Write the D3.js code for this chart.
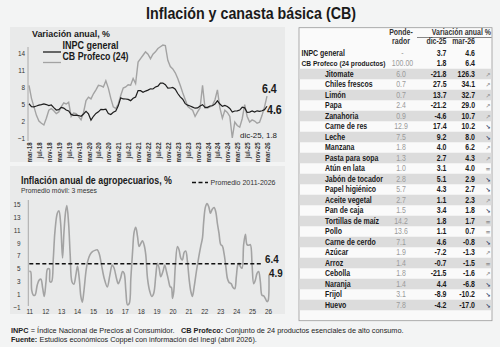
<!DOCTYPE html>
<html><head><meta charset="utf-8">
<script src="https://cdn.jsdelivr.net/npm/d3@7"></script>
<style>
html,body{margin:0;padding:0;background:#f3f4f4;}
svg{display:block;font-family:"Liberation Sans","Roboto",sans-serif;}
</style></head><body>
<script>
// ---------- DATA ----------
const topTickLabels = ["mar-18","jul-18","nov-18","mar-19","jul-19","nov-19","mar-20","jul-20","nov-20","mar-21","jul-21","nov-21","mar-22","jul-22","nov-22","mar-23","jul-23","nov-23","mar-24","jul-24","nov-24","mar-25","jul-25","nov-25","mar-26"];
// monthly, mar-18 .. mar-26
const inpcGeneral = [5.04,4.55,4.51,4.65,4.81,4.90,5.02,4.90,4.72,4.83,
 4.37,3.94,4.00,4.41,4.28,3.95,3.78,3.16,3.00,3.02,2.97,2.83,
 3.24,3.70,3.25,2.15,2.84,3.33,3.62,4.05,4.01,4.09,3.33,3.15,
 3.54,3.76,4.67,6.08,5.89,5.88,5.81,5.59,6.00,6.24,7.37,7.36,
 7.07,7.28,7.45,7.68,7.65,7.99,8.15,8.70,8.70,8.41,7.80,7.82,
 7.91,7.62,6.85,6.25,5.84,5.06,4.79,4.64,4.45,4.26,4.32,4.66,
 4.88,4.40,4.42,4.65,4.69,4.98,5.57,4.99,4.58,4.76,4.55,4.21,
 3.59,3.77,3.80,3.93,4.42,4.32,3.51,3.57,3.76,3.57,3.80,3.69,
 3.80,4.00,4.60];
const cbProfeco = [8.3,6.0,4.5,3.0,2.0,1.6,1.3,2.5,3.9,4.2,
 3.8,3.3,3.6,4.5,5.2,5.0,5.3,2.8,3.4,3.3,2.8,2.2,
 3.5,5.6,6.2,5.9,6.8,7.5,8.3,8.2,8.0,9.1,7.8,6.0,
 4.5,4.2,5.0,6.5,7.8,8.0,8.4,8.3,9.5,8.6,12.4,13.0,
 13.6,14.2,13.8,13.0,13.8,14.2,14.8,15.1,15.4,15.3,12.7,11.6,
 11.2,10.5,9.5,8.3,7.0,5.8,4.6,4.2,3.9,2.8,3.6,4.3,
 8.3,4.3,4.3,4.5,4.8,5.7,7.5,4.3,2.5,3.9,3.5,2.8,
 -1.0,1.8,1.2,0.9,2.4,4.9,2.8,1.8,2.2,2.0,1.6,1.8,
 3.0,4.5,6.4];
const topYTicks = [14,11,8,5,2,-1];

// agro 3-month moving average (decimal year, value)
const agroTime = [2011.00,2011.08,2011.15,2011.25,2011.36,2011.50,2011.63,2011.73,2011.84,2011.94,
 2012.05,2012.15,2012.26,2012.30,2012.40,2012.51,2012.61,2012.76,2012.86,2012.97,
 2013.09,2013.18,2013.28,2013.36,2013.47,2013.57,2013.68,2013.80,2013.93,
 2014.03,2014.14,2014.24,2014.33,2014.43,2014.56,2014.66,2014.81,2014.97,
 2015.12,2015.27,2015.39,2015.54,2015.71,2015.90,
 2016.06,2016.21,2016.33,2016.48,2016.59,2016.73,2016.86,2016.96,
 2017.07,2017.17,2017.28,2017.38,2017.49,2017.59,2017.69,2017.80,2017.90,
 2018.01,2018.11,2018.22,2018.32,2018.43,2018.57,2018.70,2018.82,2018.95,
 2019.05,2019.16,2019.26,2019.41,2019.51,2019.62,2019.74,2019.85,2019.93,
 2020.00,2020.08,2020.18,2020.31,2020.41,2020.52,2020.62,2020.73,2020.83,2020.94,
 2021.04,2021.15,2021.25,2021.36,2021.50,2021.65,2021.77,2021.88,2021.96,
 2022.07,2022.17,2022.28,2022.38,2022.49,2022.61,2022.72,2022.82,2022.92,
 2023.03,2023.13,2023.24,2023.34,2023.45,2023.55,2023.68,2023.80,2023.91,
 2024.01,2024.10,2024.18,2024.26,2024.37,2024.47,2024.58,2024.68,2024.79,2024.89,
 2025.00,2025.10,2025.21,2025.31,2025.41,2025.52,2025.62,2025.73,2025.83,2025.94,
 2026.00,2026.06];
const agroValues = [4.5,4.5,1.6,0.8,0.8,2.4,3.2,3.3,1.9,0.6,
 2.9,4.9,4.9,2.9,2.9,6.6,10.7,13.6,14.0,12.0,
 6.6,10.7,13.8,14.8,12.0,7.1,2.9,2.5,4.0,
 5.3,3.4,0.6,-0.3,1.4,4.5,6.0,7.1,7.6,
 7.8,7.9,7.3,5.5,3.4,2.1,
 3.9,5.5,5.0,3.4,2.6,3.4,4.5,4.2,
 1.4,-0.7,-0.5,3.4,7.6,10.7,11.4,10.0,8.4,
 8.9,9.3,8.6,7.1,3.4,1.4,0.6,1.1,3.9,
 5.8,5.0,3.7,4.6,5.5,4.5,3.2,2.1,2.0,
 0.3,1.4,5.5,8.4,7.9,6.6,6.3,7.5,7.7,6.0,
 3.4,1.4,0.6,2.1,4.5,6.8,8.4,9.7,12.3,
 14.6,15.1,14.6,13.6,14.2,14.5,13.8,12.0,10.5,
 8.7,8.5,7.3,5.5,3.4,2.8,2.6,2.0,1.8,
 3.7,5.5,5.8,5.3,5.0,8.7,10.3,8.7,8.6,8.7,
 5.5,2.6,3.2,4.2,4.5,2.9,0.8,0.7,0.3,-0.2,
 -0.1,4.0];
const agroAverage = 5.7;
const agroYTicks = [15,13,11,9,7,5,3,1,-1];
const agroYearLabels = ["11","12","13","14","15","16","17","18","19","20","21","22","23","24","25","26"];

// table
const products = ["Jitomate","Chiles frescos","Limón","Papa","Zanahoria","Carne de res","Leche","Manzana","Pasta para sopa","Atún en lata","Jabón de tocador","Papel higiénico","Aceite vegetal","Pan de caja","Tortillas de maíz","Pollo","Carne de cerdo","Azúcar","Arroz","Cebolla","Naranja","Frijol","Huevo"];
const weights = ["6.0","0.7","0.7","2.4","0.9","12.9","7.5","1.8","1.3","1.0","2.8","5.7","2.7","1.5","14.2","13.6","7.1","1.9","1.4","1.8","1.4","3.1","7.8"];
const dic25 = ["-21.8","27.5","13.7","-21.2","-4.6","17.4","9.2","4.0","2.7","3.1","5.1","4.3","1.1","3.4","1.8","1.1","4.6","-7.2","-0.7","-21.5","4.4","-8.9","-4.2"];
const mar26 = ["126.3","34.1","32.7","29.0","10.7","10.2","8.0","6.2","4.3","4.0","2.9","2.7","2.3","1.8","1.7","0.7","-0.8","-1.3","-1.5","-1.6","-6.8","-10.2","-17.0"];
const trend = ["up","up","up","up","up","down","down","up","up","eq","down","down","up","down","eq","eq","down","up","eq","up","down","down","down"];
const summaryRows = [["INPC general","-","3.7","4.6"],["CB Profeco (24 productos)","100.00","1.8","6.4"]];
const tableHeaders = {pond1:"Ponde-",pond2:"rador",var:"Variación anual %",c1:"dic-25",c2:"mar-26"};
const footer1 = [["INPC",true],[" = Índice Nacional de Precios al Consumidor.   ",false],["CB Profeco:",true],[" Conjunto de 24 productos esenciales de alto consumo.",false]];
const footer2 = [["Fuente:",true],[" Estudios económicos Coppel con información del Inegi (abril 2026).",false]];

// ---------- DRAW ----------
const W=500,H=347;
const svg=d3.select("body").append("svg").attr("width",W).attr("height",H);
svg.append("rect").attr("width",W).attr("height",H).attr("fill","#f3f4f4");

svg.append("text").attr("x",251).attr("y",19).attr("text-anchor","middle").attr("data-w",210)
 .attr("font-size",16.5).attr("font-weight","bold").attr("fill","#1a1a1a").text("Inflación y canasta básica (CB)");

// panels
svg.append("rect").attr("x",10).attr("y",27).attr("width",275).attr("height",135).attr("fill","#e9eaea");
svg.append("rect").attr("x",10).attr("y",166).attr("width",275).attr("height",148).attr("fill","#e9eaea");

// ---- top chart ----
const xT=d3.scaleLinear().domain([0,cbProfeco.length-1]).range([29,267]);
const yT=d3.scaleLinear().domain([-1,14]).range([138,53]);
const gT=svg.append("g");
gT.append("line").attr("x1",28).attr("x2",28).attr("y1",47).attr("y2",141).attr("stroke","#999").attr("stroke-width",0.8);
const yAxT=d3.axisLeft(yT).tickValues(topYTicks).tickSize(0).tickPadding(0);
gT.append("g").attr("transform","translate(25,0)").call(yAxT)
 .call(g=>g.select(".domain").remove())
 .call(g=>g.selectAll("text").attr("font-size",7.5).attr("fill","#333").attr("font-family","inherit"));
const xAxT=d3.axisBottom(xT).tickValues(d3.range(0,97,4)).tickFormat((d,i)=>topTickLabels[i]).tickSize(0);
gT.append("g").attr("transform","translate(0,141)").call(xAxT)
 .call(g=>g.select(".domain").remove())
 .call(g=>g.selectAll("text").attr("font-size",7.2).attr("font-weight","bold").attr("fill","#333").attr("font-family","inherit")
   .attr("text-anchor","end").attr("transform","rotate(-90)").attr("dx","-0.2em").attr("dy","0").attr("x",0).attr("y",0)
   .attr("dominant-baseline","central"));
const lineT=d3.line().x((d,i)=>xT(i)).y(d=>yT(d));
gT.append("path").datum(cbProfeco).attr("d",lineT).attr("fill","none").attr("stroke","#a3a3a3").attr("stroke-width",1.4);
gT.append("path").datum(inpcGeneral).attr("d",lineT).attr("fill","none").attr("stroke","#1e1e1e").attr("stroke-width",1.2);
gT.append("text").attr("x",32).attr("y",37.3).attr("data-w",78).attr("font-size",9).attr("font-weight","bold").attr("fill","#1a1a1a").text("Variación anual, %");
gT.append("line").attr("x1",43).attr("x2",61).attr("y1",52).attr("y2",52).attr("stroke","#1e1e1e").attr("stroke-width",1.3);
gT.append("line").attr("x1",43).attr("x2",61).attr("y1",62.5).attr("y2",62.5).attr("stroke","#a3a3a3").attr("stroke-width",1.3);
gT.append("text").attr("x",62.5).attr("y",49).attr("data-w",56).attr("font-size",10).attr("font-weight","bold").attr("fill","#1a1a1a").text("INPC general");
gT.append("text").attr("x",62.5).attr("y",60).attr("data-w",66).attr("font-size",10).attr("font-weight","bold").attr("fill","#1a1a1a").text("CB Profeco (24)");
gT.append("text").attr("x",262).attr("y",93).attr("font-size",12.5).attr("font-weight","bold").attr("fill","#1a1a1a").text(cbProfeco[cbProfeco.length-1].toFixed(1));
gT.append("text").attr("x",267).attr("y",113.5).attr("font-size",12.5).attr("font-weight","bold").attr("fill","#1a1a1a").text(inpcGeneral[inpcGeneral.length-1].toFixed(1));
gT.append("text").attr("x",240).attr("y",138).attr("data-w",37).attr("font-size",8).attr("fill","#1a1a1a").text("dic-25, "+cbProfeco[93].toFixed(1));

// ---- bottom chart ----
const xB=d3.scaleLinear().domain([2011,2026]).range([29.3,268]);
const yB=d3.scaleLinear().domain([-1,15]).range([306.7,204.3]);
const gB=svg.append("g");
gB.append("line").attr("x1",28.3).attr("x2",28.3).attr("y1",200).attr("y2",306).attr("stroke","#999").attr("stroke-width",0.8);
gB.append("g").attr("transform","translate(20.5,0)").call(d3.axisLeft(yB).tickValues(agroYTicks).tickSize(0).tickPadding(0))
 .call(g=>g.select(".domain").remove())
 .call(g=>g.selectAll("text").attr("font-size",7.5).attr("fill","#333").attr("font-family","inherit"));
gB.append("g").attr("transform","translate(0,306)").call(d3.axisBottom(xB).tickValues(d3.range(2011,2027)).tickFormat((d,i)=>agroYearLabels[i]).tickSize(0).tickPadding(3))
 .call(g=>g.select(".domain").remove())
 .call(g=>g.selectAll("text").attr("font-size",7.5).attr("fill","#333").attr("font-family","inherit"));
const lineB=d3.line().x((d,i)=>xB(agroTime[i])).y(d=>yB(d)).curve(d3.curveCatmullRom.alpha(0.5));
gB.append("path").datum(agroValues).attr("d",lineB).attr("fill","none").attr("stroke","#a3a3a3").attr("stroke-width",1.6);
gB.append("line").attr("x1",xB(2011)).attr("x2",262).attr("y1",yB(agroAverage)).attr("y2",yB(agroAverage))
 .attr("stroke","#111").attr("stroke-width",1.4).attr("stroke-dasharray","4,2.5");
gB.append("text").attr("x",21).attr("y",184).attr("data-w",151).attr("font-size",10.5).attr("font-weight","bold").attr("fill","#1a1a1a").text("Inflación anual de agropecuarios, %");
gB.append("text").attr("x",21).attr("y",192.5).attr("data-w",76).attr("font-size",7.6).attr("fill","#333").text("Promedio móvil: 3 meses");
gB.append("line").attr("x1",192).attr("x2",208).attr("y1",182.5).attr("y2",182.5).attr("stroke","#111").attr("stroke-width",1.4).attr("stroke-dasharray","4,2.5");
gB.append("text").attr("x",210.5).attr("y",185).attr("data-w",65).attr("font-size",8).attr("fill","#333").text("Promedio 2011-2026");
gB.append("text").attr("x",265).attr("y",263).attr("font-size",11.5).attr("font-weight","bold").attr("fill","#1a1a1a").text("6.4");
gB.append("text").attr("x",269).attr("y",276.5).attr("font-size",11.5).attr("font-weight","bold").attr("fill","#1a1a1a").text("4.9");

// ---- table ----
const tX=299,tY=27.7,tW=193,tH=293;
const gTab=svg.append("g");
gTab.append("rect").attr("x",tX).attr("y",tY).attr("width",tW).attr("height",tH).attr("fill","#fafafa").attr("stroke","#9a9a9a").attr("stroke-width",0.8);
const rowH=10.5, row0=74, fs=8.2;
const colName=325, colW=401, colC1=446.5, colC2=475, colArr=488;
products.forEach((p,i)=>{
  const cy=row0+i*rowH;
  if(i%2===0) gTab.append("rect").attr("x",tX+0.5).attr("y",cy-rowH/2).attr("width",tW-1).attr("height",rowH).attr("fill","#dcdcdc");
});
gTab.append("text").attr("x",colW).attr("y",35).attr("text-anchor","middle").attr("font-size",fs).attr("font-weight","bold").attr("fill","#333").text(tableHeaders.pond1);
gTab.append("text").attr("x",colW).attr("y",44.3).attr("text-anchor","middle").attr("font-size",fs).attr("font-weight","bold").attr("fill","#333").text(tableHeaders.pond2);
gTab.append("text").attr("x",491).attr("y",35).attr("text-anchor","end").attr("font-size",fs).attr("font-weight","bold").attr("fill","#333").text(tableHeaders.var);
gTab.append("line").attr("x1",417).attr("x2",491.5).attr("y1",37.5).attr("y2",37.5).attr("stroke","#555").attr("stroke-width",0.7);
gTab.append("text").attr("x",colC1).attr("y",44.3).attr("text-anchor","end").attr("font-size",fs).attr("font-weight","bold").attr("fill","#333").text(tableHeaders.c1);
gTab.append("text").attr("x",colC2).attr("y",44.3).attr("text-anchor","end").attr("font-size",fs).attr("font-weight","bold").attr("fill","#333").text(tableHeaders.c2);
summaryRows.forEach((r,i)=>{
  const cy=52.7+i*10.6+2.8;
  const t=gTab.append("text").attr("x",301.5).attr("y",cy).attr("font-size",fs).attr("font-weight","bold").attr("fill","#1a1a1a").text(r[0]);
  if(i===1){ // shrink so its natural box ends before the weight column
    const n=t.node().getComputedTextLength();
    t.attr("font-size",fs*85/n).attr("data-w",84);
  }
  gTab.append("text").attr("x",colW+1.5).attr("y",cy).attr("text-anchor","middle").attr("font-size",fs).attr("fill","#9a9a9a").text(r[1]);
  gTab.append("text").attr("x",colC1).attr("y",cy).attr("text-anchor","end").attr("font-size",fs).attr("font-weight","bold").attr("fill","#1a1a1a").text(r[2]);
  gTab.append("text").attr("x",colC2).attr("y",cy).attr("text-anchor","end").attr("font-size",fs).attr("font-weight","bold").attr("fill","#1a1a1a").text(r[3]);
});
const arrowChar={up:"↗",down:"↘",eq:"="};
const arrowCol={up:"#a0a0a0",down:"#283a63",eq:"#8a8a8a"};
products.forEach((p,i)=>{
  const cy=row0+i*rowH+2.8;
  gTab.append("text").attr("x",colName).attr("y",cy).attr("font-size",fs).attr("font-weight","bold").attr("fill","#1a1a1a").text(p);
  gTab.append("text").attr("x",colW).attr("y",cy).attr("text-anchor","middle").attr("font-size",fs).attr("fill","#9a9a9a").text(weights[i]);
  gTab.append("text").attr("x",colC1).attr("y",cy).attr("text-anchor","end").attr("font-size",fs).attr("font-weight","bold").attr("fill","#1a1a1a").text(dic25[i]);
  gTab.append("text").attr("x",colC2).attr("y",cy).attr("text-anchor","end").attr("font-size",fs).attr("font-weight","bold").attr("fill","#1a1a1a").text(mar26[i]);
  gTab.append("text").attr("x",colArr).attr("y",cy-0.3).attr("text-anchor","middle").attr("data-keep",1).attr("font-size",6).attr("font-family","DejaVu Sans").attr("font-weight","bold").attr("fill",arrowCol[trend[i]]).text(arrowChar[trend[i]]);
});

// ---- footer (separate runs, font size chosen so the line has the target width) ----
function runLine(parts,x,y,targetW,size){
  const nodes=parts.map(p=>svg.append("text").attr("y",y).attr("font-size",size).attr("fill","#222")
     .attr("font-weight",p[1]?"bold":"normal").attr("data-keep",1).style("white-space","pre").text(p[0]));
  const lens=nodes.map(n=>n.node().getComputedTextLength());
  const k=targetW/d3.sum(lens);
  let cx=x;
  nodes.forEach((n,i)=>{
    n.attr("font-size",size*k).attr("x",cx);
    cx+=n.node().getComputedTextLength()+0.3;
  });
}
runLine(footer1,11,332.5,392,8.8);
runLine(footer2,11,341.8,246,8.8);

// ---- condense all text to mimic a narrow typeface ----
svg.selectAll("text").each(function(){
  if(this.getAttribute("data-keep")) return;
  const w=this.getAttribute("data-w");
  const len=this.getComputedTextLength();
  this.setAttribute("textLength", w ? +w : len*0.85);
  this.setAttribute("lengthAdjust","spacingAndGlyphs");
});
</script>
</body></html>
